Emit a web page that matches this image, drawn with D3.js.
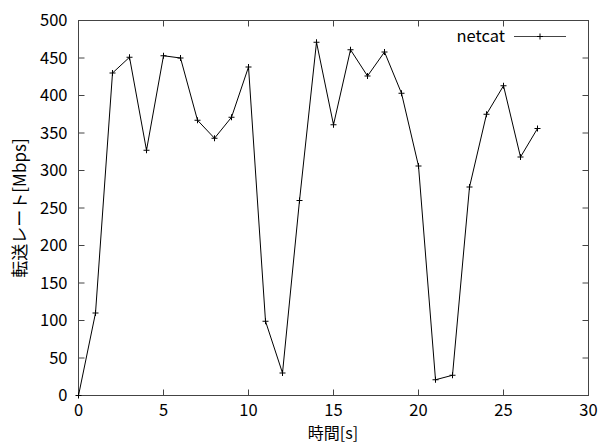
<!DOCTYPE html>
<html><head><meta charset="utf-8">
<script src="https://cdn.jsdelivr.net/npm/d3@7"></script>
<style>
body{margin:0;background:#fff;}
text{font-family:"Noto Sans CJK JP","Noto Sans",sans-serif;}
</style></head>
<body>
<svg id="chart" width="602" height="444"></svg>
<script>
const times = [0,1,2,3,4,5,6,7,8,9,10,11,12,13,14,15,16,17,18,19,20,21,22,23,24,25,26,27];
const rates = [0,110,430,451,327,453,450,367,343,371,438,99,30,260,471,361,461,426,458,403,306,21,27,278,375,413,318,356];
const xTicks = [0,5,10,15,20,25,30];
const yTicks = [0,50,100,150,200,250,300,350,400,450,500];
const seriesName = "netcat";
const xLabel = "時間[s]";
const yLabel = "転送レート[Mbps]";

const svg = d3.select("#chart");
const L = 78.5, R = 588.5, T = 20.5, B = 395.5;
const x = d3.scaleLinear().domain([0,30]).range([L,R]);
const y = d3.scaleLinear().domain([0,500]).range([B,T]);
const tickLen = 6;
const frameColor = "#444";
const fs = 16.5;

const g = svg.append("g");
xTicks.forEach(t=>{
  g.append("line").attr("x1",x(t)).attr("x2",x(t)).attr("y1",B).attr("y2",B-tickLen).attr("stroke",frameColor);
  g.append("line").attr("x1",x(t)).attr("x2",x(t)).attr("y1",T).attr("y2",T+tickLen).attr("stroke",frameColor);
  g.append("text").attr("x",x(t)).attr("y",416).attr("text-anchor","middle").attr("font-size",fs).attr("fill","#000").text(t);
});
yTicks.forEach(t=>{
  g.append("line").attr("x1",L).attr("x2",L+tickLen).attr("y1",y(t)).attr("y2",y(t)).attr("stroke",frameColor);
  g.append("line").attr("x1",R).attr("x2",R-tickLen).attr("y1",y(t)).attr("y2",y(t)).attr("stroke",frameColor);
  g.append("text").attr("x",L-11).attr("y",y(t)).attr("dy","0.36em").attr("text-anchor","end").attr("font-size",fs).attr("fill","#000").text(t);
});
g.append("rect").attr("x",L).attr("y",T).attr("width",R-L).attr("height",B-T).attr("fill","none").attr("stroke",frameColor).attr("stroke-width",1);

svg.append("text").attr("x",333).attr("y",438.5).attr("text-anchor","middle").attr("font-size",16).attr("fill","#000").text(xLabel);
svg.append("text").attr("transform",`translate(26,${(T+B)/2}) rotate(-90)`).attr("text-anchor","middle").attr("font-size",17).attr("fill","#000").text(yLabel);

const data = times.map((t,i)=>({t, v: rates[i]}));
const line = d3.line().x(d=>x(d.t)).y(d=>y(d.v));
svg.append("path").datum(data).attr("d",line).attr("fill","none").attr("stroke","#000").attr("stroke-width",1);
const plus = (sel, cx, cy) => {
  sel.append("line").attr("x1",cx-3).attr("x2",cx+3).attr("y1",cy).attr("y2",cy).attr("stroke","#000");
  sel.append("line").attr("x1",cx).attr("x2",cx).attr("y1",cy-3).attr("y2",cy+3).attr("stroke","#000");
};
const mk = svg.append("g");
data.forEach(d=>plus(mk, x(d.t), y(d.v)));

const lg = svg.append("g");
lg.append("text").attr("x",505).attr("y",36).attr("dy","0.36em").attr("text-anchor","end").attr("font-size",fs).attr("fill","#000").text(seriesName);
lg.append("line").attr("x1",514).attr("x2",566).attr("y1",36.5).attr("y2",36.5).attr("stroke","#444");
plus(lg, 540, 36.5);
</script>
</body></html>
